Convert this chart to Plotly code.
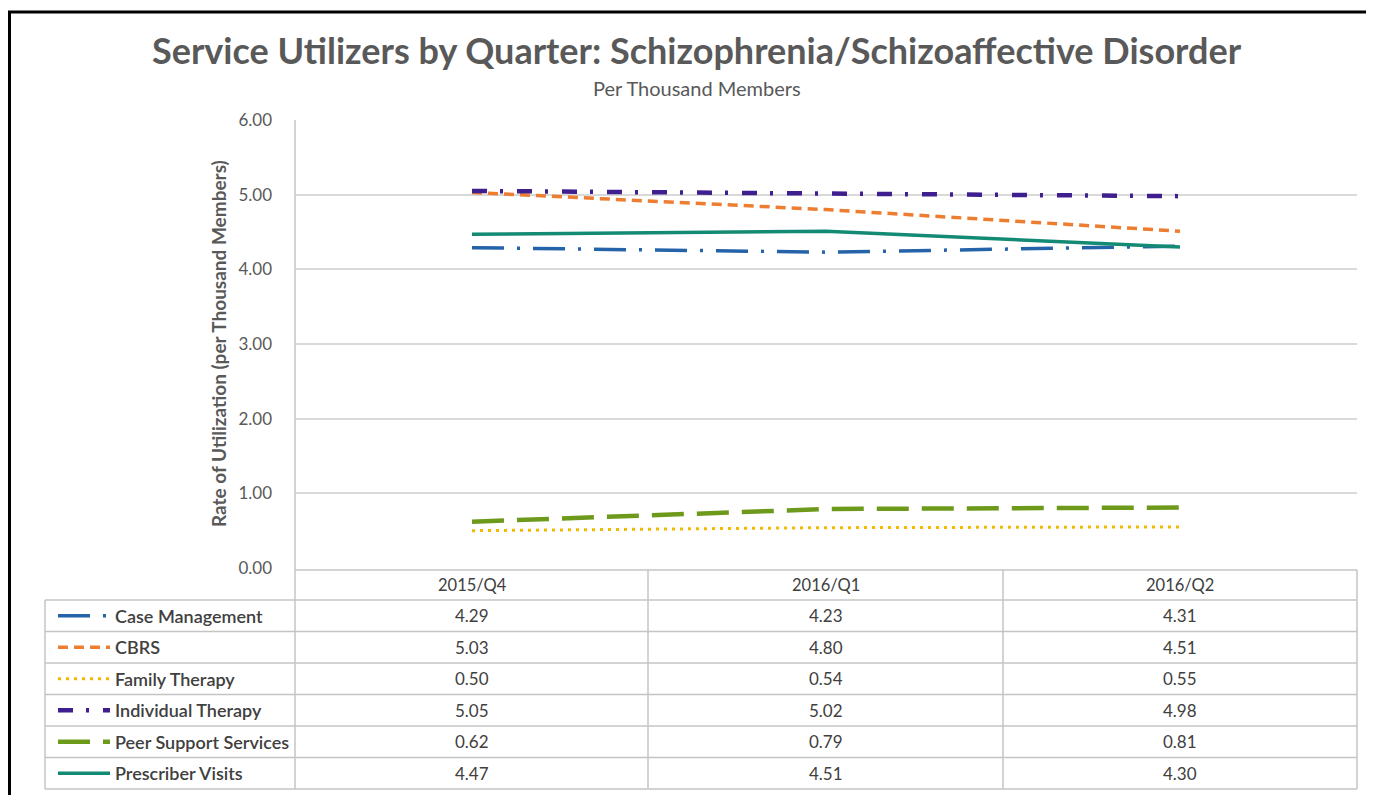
import plotly.graph_objects as go

# ---------------- data ----------------
quarters = ["2015/Q4", "2016/Q1", "2016/Q2"]
series_names = ["Case Management", "CBRS", "Family Therapy",
                "Individual Therapy", "Peer Support Services", "Prescriber Visits"]
case_management = [4.29, 4.23, 4.31]
cbrs = [5.03, 4.80, 4.51]
family_therapy = [0.50, 0.54, 0.55]
individual_therapy = [5.05, 5.02, 4.98]
peer_support = [0.62, 0.79, 0.81]
prescriber_visits = [4.47, 4.51, 4.30]
y_ticks = [0, 1, 2, 3, 4, 5, 6]

values = [case_management, cbrs, family_therapy,
          individual_therapy, peer_support, prescriber_visits]

# ---------------- styles ----------------
colors = ["#2563a8", "#ed7d31", "#f5b800", "#3f1f8f", "#6e9a1c", "#138a73"]
dashes = ["32px,13px,3px,13px", "10px,6px", "3px,5px",
          "15px,13px,3px,14px", "32px,13px", "solid"]
widths = [3.5, 3.5, 3, 4.5, 4.5, 3.5]

# page is 1379x803; the page body adds an 8px margin on every side
OFF = 8
PAGE_W, PAGE_H = 1379, 803
W, H = PAGE_W - 2 * OFF, PAGE_H - 2 * OFF
L, R, T, B = 295, 1357, 120, 568   # plot area in page pixels
FONT = "Lato"
GRAY = "#595959"
TXT = "#404040"
LINE = "#c4c4c4"


def px(x):
    return (x - L) / (R - L)


def py(y):
    return (B - y) / (B - T)


fig = go.Figure()
for name, vals, c, d, w in zip(series_names, values, colors, dashes, widths):
    fig.add_trace(go.Scatter(x=quarters, y=vals, mode="lines", name=name,
                             line=dict(color=c, dash=d, width=w),
                             showlegend=False))

shapes = []
annotations = []

# table geometry
row_top = 600
row_h = 31.5
n_rows = len(series_names)
table_bottom = row_top + row_h * n_rows
col_edges = [L, 648, 1003, R]
legend_left = 45

# horizontal table lines
shapes.append(dict(type="line", xref="paper", yref="paper",
                   x0=px(L), x1=px(R), y0=py(570), y1=py(570),
                   line=dict(color=LINE, width=1.5)))
for i in range(n_rows + 1):
    yy = row_top + i * row_h
    shapes.append(dict(type="line", xref="paper", yref="paper",
                       x0=px(legend_left), x1=px(R), y0=py(yy), y1=py(yy),
                       line=dict(color=LINE, width=1.5)))
# vertical table lines
shapes.append(dict(type="line", xref="paper", yref="paper",
                   x0=px(legend_left), x1=px(legend_left), y0=py(row_top), y1=py(table_bottom),
                   line=dict(color=LINE, width=1.5)))
shapes.append(dict(type="line", xref="paper", yref="paper",
                   x0=px(L), x1=px(L), y0=py(T), y1=py(table_bottom),
                   line=dict(color=LINE, width=1.5)))
for xe in col_edges[1:]:
    shapes.append(dict(type="line", xref="paper", yref="paper",
                       x0=px(xe), x1=px(xe), y0=py(570), y1=py(table_bottom),
                       line=dict(color=LINE, width=1.5)))

# header labels
for q in quarters:
    annotations.append(dict(x=q, xref="x", y=py(585), yref="paper", text=q,
                            showarrow=False, font=dict(family=FONT, size=16.5, color=TXT),
                            xanchor="center", yanchor="middle"))

# rows: legend glyph, label, values
for i, (name, vals, c, d, w) in enumerate(zip(series_names, values, colors, dashes, widths)):
    yc = row_top + row_h * (i + 0.5)
    shapes.append(dict(type="line", xref="paper", yref="paper",
                       x0=px(58), x1=px(110), y0=py(yc), y1=py(yc),
                       line=dict(color=c, dash=d, width=w)))
    annotations.append(dict(x=px(113), xref="paper", y=py(yc), yref="paper", text=name,
                            showarrow=False, xanchor="left", yanchor="middle",
                            font=dict(family=FONT, size=18, color=TXT, weight=600)))
    for q, v in zip(quarters, vals):
        annotations.append(dict(x=q, xref="x", y=py(yc), yref="paper", text=f"{v:.2f}",
                                showarrow=False, xanchor="center", yanchor="middle",
                                font=dict(family=FONT, size=17, color=TXT)))

# titles
annotations.append(dict(x=px(697), y=py(50), xref="paper", yref="paper",
                        text="<b>Service Utilizers by Quarter: Schizophrenia/Schizoaffective Disorder</b>",
                        showarrow=False, xanchor="center", yanchor="middle",
                        font=dict(family=FONT, size=36, color=GRAY)))
annotations.append(dict(x=px(697), y=py(88), xref="paper", yref="paper",
                        text="Per Thousand Members", showarrow=False,
                        xanchor="center", yanchor="middle",
                        font=dict(family=FONT, size=20, color=GRAY)))
annotations.append(dict(x=px(218), y=py(344), xref="paper", yref="paper",
                        text="<b>Rate of Utilization (per Thousand Members)</b>",
                        textangle=-90, showarrow=False, xanchor="center", yanchor="middle",
                        font=dict(family=FONT, size=19, color=GRAY)))

# outer frame (top and left black edges)
shapes.append(dict(type="line", xref="paper", yref="paper",
                   x0=px(8), x1=px(1366), y0=py(12), y1=py(12),
                   line=dict(color="black", width=3)))
shapes.append(dict(type="line", xref="paper", yref="paper",
                   x0=px(9.5), x1=px(9.5), y0=py(12), y1=py(OFF + H),
                   line=dict(color="black", width=3)))

fig.update_layout(
    width=W, height=H,
    margin=dict(l=L - OFF, r=OFF + W - R, t=T - OFF, b=OFF + H - B, pad=0),
    paper_bgcolor="white", plot_bgcolor="white",
    shapes=shapes, annotations=annotations,
    xaxis=dict(type="category", range=[-0.5, 2.5], showgrid=False,
               showticklabels=False, showline=False, zeroline=False, ticks=""),
    yaxis=dict(range=[0, 6], tickvals=y_ticks, tickformat=".2f",
               showgrid=True, gridcolor="#d9d9d9", gridwidth=1.5,
               zeroline=False, showline=False, ticks="",
               ticklabelstandoff=22,
               tickfont=dict(family=FONT, size=17, color=GRAY)),
    font=dict(family=FONT),
)

fig.write_html("out.html", config={"displayModeBar": False})
